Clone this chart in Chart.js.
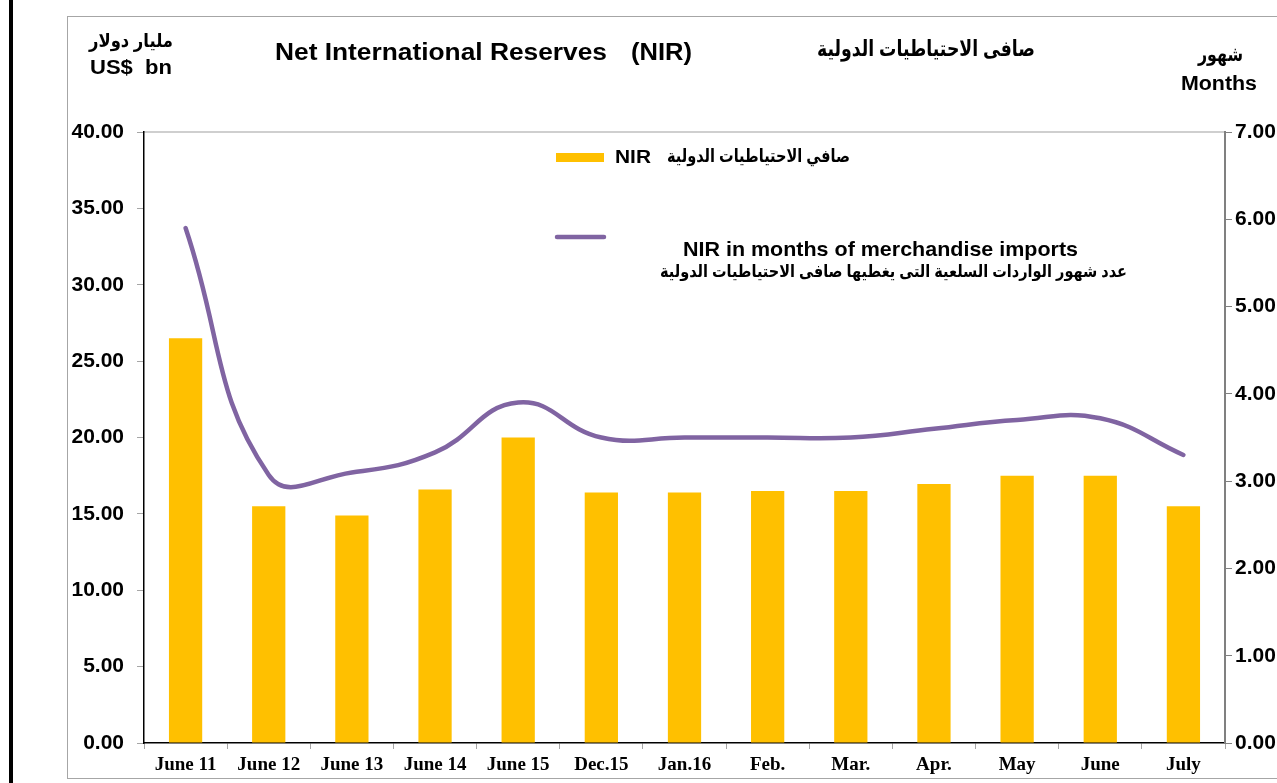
<!DOCTYPE html>
<html>
<head>
<meta charset="utf-8">
<script src="https://cdn.jsdelivr.net/npm/chart.js@4"></script>
<style>
  html, body { margin: 0; padding: 0; background: #fff; }
  #wrap { width: 1277px; height: 783px; position: relative; }
</style>
</head>
<body>
<div id="wrap"><canvas id="chart_nir" width="1277" height="783"></canvas></div>
<script>
let categories = ['June 11', 'June 12', 'June 13', 'June 14', 'June 15', 'Dec.15', 'Jan.16', 'Feb.', 'Mar.', 'Apr.', 'May', 'June', 'July'];
let nir = [26.5, 15.5, 14.9, 16.6, 20.0, 16.4, 16.4, 16.5, 16.5, 16.95, 17.5, 17.5, 15.5];
let months = [5.9, 3.07, 3.1, 3.33, 3.9, 3.5, 3.5, 3.5, 3.5, 3.6, 3.7, 3.72, 3.3];

const ARIAL = '"Liberation Sans", Arial, "DejaVu Sans", sans-serif';

// squeeze/stretch a text run so it spans x0..x1
function fitText(c, text, x0, x1, y, font) {
    c.save();
    c.font = font;
    c.textAlign = 'left';
    c.textBaseline = 'middle';
    let w = c.measureText(text).width;
    c.translate(x0, y);
    c.scale((x1 - x0) / w, 1);
    c.fillText(text, 0, 0);
    c.restore();
}

// titles, legend and frame drawn straight onto the canvas
let decor = {
    id: 'decor',
    beforeDraw(chart) {
        let c = chart.ctx;
        c.save();
        c.fillStyle = '#000';
        c.fillRect(9, 0, 4, 783);
        c.strokeStyle = '#a6a6a6';
        c.lineWidth = 1;
        c.strokeRect(67.5, 16.5, 1300, 762);
        let a = chart.chartArea;
        c.strokeStyle = '#bfbfbf';
        c.lineWidth = 1.5;
        c.beginPath();
        c.moveTo(a.left, a.top);
        c.lineTo(a.right, a.top);
        c.stroke();
        c.restore();
    },
    afterDraw(chart) {
        let c = chart.ctx;
        c.save();
        c.fillStyle = '#000';
        fitText(c, 'مليار دولار', 89, 173, 42, 'bold 19px ' + ARIAL);
        fitText(c, 'US$  bn', 90, 172, 68, 'bold 20px ' + ARIAL);
        fitText(c, 'Net International Reserves', 275, 607, 54, 'bold 23px ' + ARIAL);
        fitText(c, '(NIR)', 631, 692, 54, 'bold 23px ' + ARIAL);
        fitText(c, 'صافى الاحتياطيات الدولية', 817, 1035, 50, 'bold 22px ' + ARIAL);
        fitText(c, 'شهور', 1198, 1243, 55, 'bold 20px ' + ARIAL);
        fitText(c, 'Months', 1181, 1257, 84, 'bold 20px ' + ARIAL);

        // legend
        c.fillStyle = '#FFC000';
        c.fillRect(556, 153, 48, 9);
        c.fillStyle = '#000';
        fitText(c, 'NIR', 615, 651, 158, 'bold 18px ' + ARIAL);
        fitText(c, 'صافي الاحتياطيات الدولية', 667, 850, 157, 'bold 18px ' + ARIAL);
        c.strokeStyle = '#8064A2';
        c.lineWidth = 4.5;
        c.lineCap = 'round';
        c.beginPath();
        c.moveTo(557, 237);
        c.lineTo(604, 237);
        c.stroke();
        fitText(c, 'NIR in months of merchandise imports', 683, 1078, 250, 'bold 21px ' + ARIAL);
        fitText(c, 'عدد شهور الواردات السلعية التى يغطيها صافى الاحتياطيات الدولية', 660, 1127, 272, 'bold 17px ' + ARIAL);
        c.restore();
    }
};

let ctx_nir = document.getElementById('chart_nir');

let chart_nir = new Chart(ctx_nir, {
    data: {
        labels: categories,
        datasets: [{
            type: 'line',
            label: 'NIR in months of merchandise imports',
            data: months,
            yAxisID: 'yRight',
            borderColor: '#8064A2',
            borderWidth: 4.5,
            borderCapStyle: 'round',
            pointRadius: 0,
            tension: 0.45,
            fill: false,
            order: 0
        }, {
            type: 'bar',
            label: 'NIR',
            data: nir,
            yAxisID: 'yLeft',
            backgroundColor: '#FFC000',
            barPercentage: 0.4,
            categoryPercentage: 1.0,
            order: 1
        }]
    },
    options: {
        responsive: false,
        maintainAspectRatio: false,
        animation: false,
        layout: { padding: { top: 132, left: 0, right: 0, bottom: 0 } },
        plugins: {
            legend: { display: false },
            tooltip: { enabled: false }
        },
        scales: {
            x: {
                offset: true,
                grid: { offset: true, drawOnChartArea: false, tickLength: 6, color: '#a6a6a6' },
                border: { color: '#000', width: 1.5 },
                ticks: {
                    color: '#000',
                    padding: 5,
                    maxRotation: 0,
                    font: { family: '"Liberation Serif", "Times New Roman", serif', size: 19, weight: 'bold' }
                },
                afterFit(scale) { scale.height = 40; }
            },
            yLeft: {
                position: 'left',
                min: 0,
                max: 40,
                grid: { drawOnChartArea: false, tickLength: 7, color: '#a6a6a6' },
                border: { color: '#000', width: 1.5 },
                ticks: {
                    stepSize: 5,
                    color: '#000',
                    padding: 13,
                    font: { family: ARIAL, size: 21, weight: 'bold' },
                    callback: v => v.toFixed(2)
                },
                afterFit(scale) { scale.width = 144; }
            },
            yRight: {
                position: 'right',
                min: 0,
                max: 7,
                grid: { drawOnChartArea: false, tickLength: 7, color: '#808080' },
                border: { color: '#808080', width: 2 },
                ticks: {
                    stepSize: 1,
                    color: '#000',
                    padding: 3,
                    font: { family: ARIAL, size: 21, weight: 'bold' },
                    callback: v => v.toFixed(2)
                },
                afterFit(scale) { scale.width = 52; }
            }
        }
    },
    plugins: [decor]
});
</script>
</body>
</html>
